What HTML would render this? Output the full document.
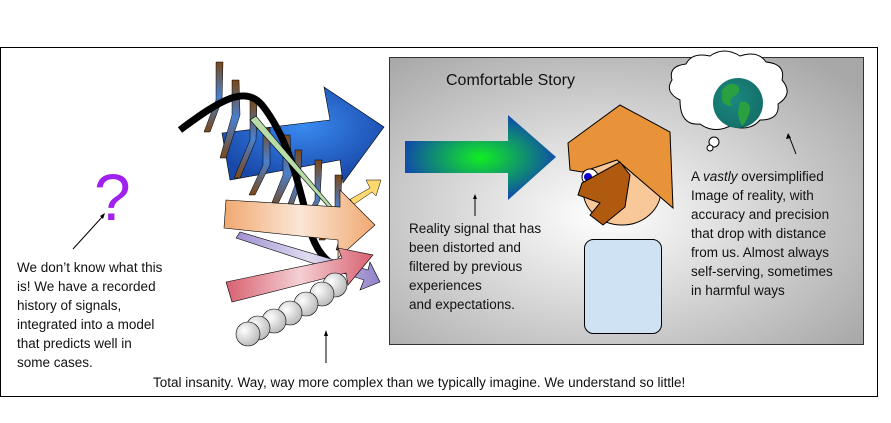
<!DOCTYPE html>
<html><head><meta charset="utf-8"><style>
body{margin:0;background:#fff}
svg{display:block}
text{font-family:"Liberation Sans",sans-serif;font-size:13.5px;fill:#111}
</style></head><body>
<svg width="891" height="423" viewBox="0 0 891 423" xmlns="http://www.w3.org/2000/svg">
<defs>
<radialGradient id="gb" cx="0.45" cy="0.55" r="0.7"><stop offset="0" stop-color="#fff"/><stop offset="1" stop-color="#a8a8a8"/></radialGradient>
<radialGradient id="ga" cx="0.5" cy="0.5" r="0.6"><stop offset="0" stop-color="#11ee22"/><stop offset="1" stop-color="#1030c0"/></radialGradient>
<radialGradient id="blue" cx="0.5" cy="0.4" r="0.6"><stop offset="0" stop-color="#3a8af0"/><stop offset="1" stop-color="#1848a8"/></radialGradient>
<linearGradient id="peach" x1="0" x2="1"><stop offset="0" stop-color="#f0a870"/><stop offset="0.5" stop-color="#fbe6d6"/><stop offset="1" stop-color="#f0a870"/></linearGradient>
<linearGradient id="red" x1="0" x2="1"><stop offset="0" stop-color="#d86070"/><stop offset="0.5" stop-color="#f4d0d4"/><stop offset="1" stop-color="#d86070"/></linearGradient>
<linearGradient id="purp" x1="0" x2="1"><stop offset="0" stop-color="#a090d0"/><stop offset="0.5" stop-color="#e0dcf0"/><stop offset="1" stop-color="#9080c8"/></linearGradient>
<linearGradient id="strip" x1="0" x2="0" y1="0" y2="1"><stop offset="0" stop-color="#7a4818"/><stop offset="0.5" stop-color="#4a80d0"/><stop offset="1" stop-color="#7a4818"/></linearGradient>
<radialGradient id="ball" cx="0.35" cy="0.35" r="0.7"><stop offset="0" stop-color="#fff"/><stop offset="1" stop-color="#b8b8b8"/></radialGradient>
<radialGradient id="earth" cx="0.4" cy="0.4" r="0.6"><stop offset="0" stop-color="#1a8a80"/><stop offset="1" stop-color="#15706a"/></radialGradient>
</defs>
<rect x="0.5" y="47.5" width="877" height="349" fill="#fff" stroke="#000"/>
<rect x="389.5" y="57.5" width="474" height="287" fill="url(#gb)" stroke="#333"/>
<text x="446" y="85" style="font-size:16px">Comfortable Story</text>
<polygon points="405,141 508,141 508,115 556,157 508,200 508,173 405,173" fill="url(#ga)"/>
<line x1="475" y1="216" x2="475" y2="196" stroke="#000"/>
<polygon points="475,194 473,199 477,199" fill="#000"/>
<g>
<text x="409" y="233">Reality signal that has</text>
<text x="409" y="252">been distorted and</text>
<text x="409" y="271">filtered by previous</text>
<text x="409" y="290">experiences</text>
<text x="409" y="309">and expectations.</text>
</g>
<!-- head -->
<ellipse cx="622" cy="190" rx="39" ry="35" fill="#f8c898" stroke="#000"/>
<polygon points="568,143 620,105 670,132 673,208 617,160 582,172 570,170" fill="#e8923a" stroke="#000"/>
<circle cx="590" cy="177" r="8" fill="#fff" stroke="#000"/>
<circle cx="588" cy="177" r="4" fill="#10c"/>
<polygon points="582,183 620,162 630,175 625,207 603,225 590,215 600,203 578,195" fill="#b05a10" stroke="#000"/>
<rect x="584.5" y="239.5" width="77" height="94" rx="9" fill="#cfe2f3" stroke="#000"/>
<!-- cloud -->
<path d="M680,100 q-16,-8 -8,-20 q-4,-14 14,-16 q6,-12 24,-8 q14,-10 30,0 q18,-6 26,6 q20,2 16,18 q12,14 -4,24 q2,16 -18,16 q-10,12 -30,6 q-16,8 -30,-2 q-20,2 -20,-24 z" fill="#fff" stroke="#000"/>
<circle cx="714" cy="142" r="5" fill="#fff" stroke="#000"/>
<circle cx="710" cy="148" r="3" fill="#fff" stroke="#000"/>
<circle cx="738" cy="103" r="25" fill="url(#earth)"/>
<path d="M722,90 q8,-10 16,-4 q4,6 -4,10 q-6,4 -2,10 q-8,0 -10,-6z M740,102 q10,-2 10,8 q-2,10 -8,16 q-4,-8 -4,-14z" fill="#2aa040"/>
<line x1="796" y1="154" x2="789" y2="136" stroke="#000"/>
<polygon points="788,133 786,139 791,138" fill="#000"/>
<g>
<text x="691" y="181">A <tspan font-style="italic">vastly</tspan> oversimplified</text>
<text x="691" y="200">Image of reality,  with</text>
<text x="691" y="219">accuracy and precision</text>
<text x="691" y="238">that  drop with distance</text>
<text x="691" y="257">from us. Almost always</text>
<text x="691" y="276">self-serving, sometimes</text>
<text x="691" y="295">in harmful ways</text>
</g>
<!-- left -->
<text x="94" y="220" style="font-size:66px;fill:#a020f0">?</text>
<line x1="73" y1="249" x2="103" y2="216" stroke="#000"/>
<polygon points="105,213 100,216 103,219" fill="#000"/>
<g>
<text x="17" y="272">We don’t know what this</text>
<text x="17" y="291">is! We have a recorded</text>
<text x="17" y="310">history of signals,</text>
<text x="17" y="329">integrated into a model</text>
<text x="17" y="348">that predicts well in</text>
<text x="17" y="367">some cases.</text>
</g>
<!-- chaos -->
<polygon points="222,133 330,120 324,87 384,127 343,183 340,160 230,180" fill="url(#blue)" stroke="#000" stroke-width="0.6"/>
<polygon points="340,205 370,188 366,180 381,180 376,196 372,192 343,212" fill="#ffd870" stroke="#000" stroke-width="0.5"/>
<g fill="url(#strip)" stroke="#000" stroke-width="0.5">
<polygon points="216,62 223,62 222,100 210,132 204,132 216,100"/>
<polygon points="232,80 239,80 240,115 226,158 220,158 232,115"/>
<polygon points="250,100 257,100 256,140 240,178 234,178 250,140"/>
<polygon points="263,128 270,128 270,165 255,195 249,195 263,165"/>
<polygon points="283,135 290,135 292,175 275,210 269,210 283,175"/>
<polygon points="295,150 302,150 300,185 288,220 282,220 295,185"/>
<polygon points="315,160 322,160 320,200 305,230 299,230 315,200"/>
<polygon points="335,175 342,175 340,210 325,240 319,240 335,210"/>
<polygon points="344,200 351,200 350,225 342,250 336,250 344,225"/>
</g>
<path d="M180,130 C220,100 245,85 262,105 C290,140 300,190 310,230 C320,265 345,275 360,268" stroke="#000" stroke-width="7" fill="none"/>
<polygon points="250,120 256,116 350,228 355,224 356,236 345,232 348,229" fill="#b8dca8" stroke="#000" stroke-width="0.6"/>
<polygon points="226,200 340,207 340,190 375,225 338,258 338,240 224,228" fill="url(#peach)" stroke="#000" stroke-width="0.6"/>
<polygon points="236,238 240,232 368,270 370,262 380,282 360,290 364,280" fill="url(#purp)" stroke="#000" stroke-width="0.6"/>
<polygon points="226,282 342,258 338,248 373,255 348,285 346,273 232,302" fill="url(#red)" stroke="#000" stroke-width="0.6"/>
<g fill="url(#ball)" stroke="#000" stroke-width="0.6">
<circle cx="335" cy="285" r="12"/><circle cx="322" cy="294" r="12"/><circle cx="306" cy="304" r="12"/><circle cx="290" cy="313" r="12"/><circle cx="274" cy="321" r="12"/><circle cx="258" cy="328" r="12"/><circle cx="248" cy="334" r="12"/>
</g>
<line x1="326" y1="363" x2="326" y2="333" stroke="#000"/>
<polygon points="326,330 324,336 328,336" fill="#000"/>
<text x="153" y="387">Total insanity. Way, way more complex than we typically imagine. We understand so little!</text>
</svg>
</body></html>
